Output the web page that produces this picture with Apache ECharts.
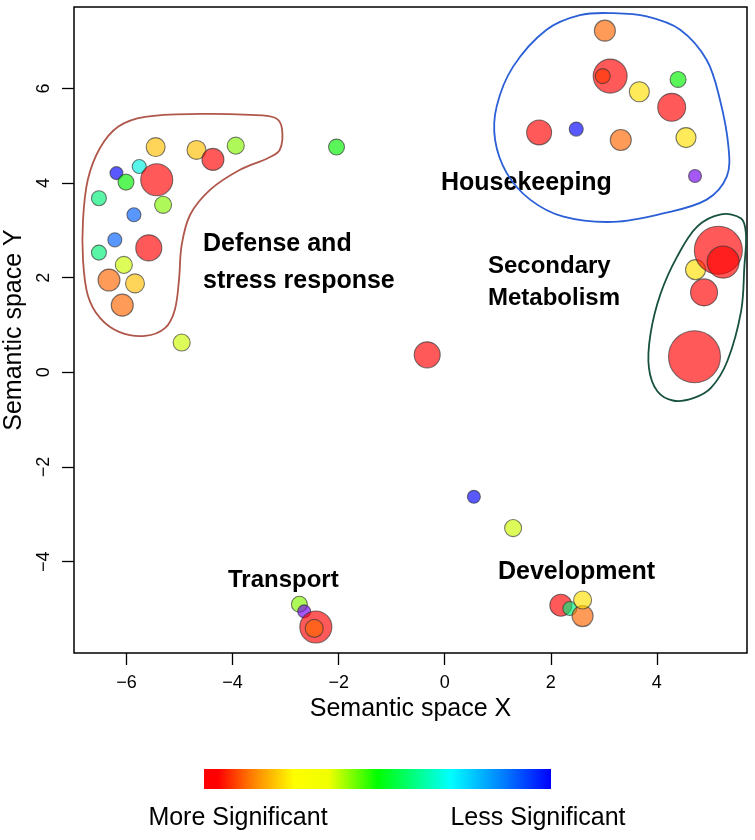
<!DOCTYPE html>
<html><head><meta charset="utf-8">
<script src="https://cdn.jsdelivr.net/npm/echarts@6/dist/echarts.min.js"></script>
<style>html,body{margin:0;padding:0;background:#fff}#c{width:755px;height:840px}</style>
</head><body><div id="c"></div>
<script>
// ---- data ----
const semX = [-5.45,-4.68,-4.37,-3.94,-2.04,-5.76,-6.19,-6.01,-5.43,-6.52,-5.31,-5.86,-6.22,-6.52,-5.58,-6.05,-6.33,-5.84,-6.08,-4.96,
  3.02,3.12,2.98,3.67,4.40,4.28,1.78,2.48,3.32,4.55,4.72,
  4.89,4.73,5.16,5.25,4.71,
  -0.33,0.55,1.29,
  -2.74,-2.65,-2.43,-2.46,
  2.19,2.36,2.60,2.60];
const semY = [4.76,4.70,4.50,4.79,4.76,4.35,4.21,4.02,4.07,3.68,3.54,3.33,2.80,2.53,2.63,2.27,1.95,1.88,1.42,0.63,
  7.22,6.26,6.26,5.93,6.19,5.60,5.07,5.14,4.91,4.96,4.15,
  1.69,2.17,2.58,2.33,0.33,
  0.37,-2.63,-3.29,
  -4.90,-5.05,-5.38,-5.41,
  -4.92,-4.99,-5.15,-4.81];
const logSize = [1.58,1.58,1.83,1.42,1.33,1.17,1.08,1.33,2.67,1.25,1.42,1.17,1.17,1.25,2.17,1.42,1.83,1.58,1.83,1.42,
  1.75,2.83,1.25,1.67,1.33,2.33,2.08,1.17,1.75,1.67,1.08,
  2.25,1.67,4.0,2.67,4.33,
  2.17,1.08,1.42,
  1.33,1.08,2.67,1.5,
  1.83,1.17,1.75,1.5];
const logP = [-7.8,-7.8,-10,-6.0,-5.3,-3.8,-1.5,-5.3,-10,-4.6,-6.0,-2.4,-2.4,-4.6,-10,-6.6,-8.5,-7.8,-8.5,-6.6,
  -8.5,-10,-9.2,-7.3,-5.3,-10,-10,-1.5,-8.5,-7.3,-0.5,
  -10,-7.3,-10,-10,-10,
  -10,-1.5,-6.6,
  -6.0,-0.5,-10,-8.5,
  -10,-4.6,-8.5,-7.3];
const xTicks = [-6,-4,-2,0,2,4];
const yTicks = [-4,-2,0,2,4,6];
const outlineDefense = [[-3.07,5.16],[-3.11,4.70],[-3.33,4.53],[-3.86,4.28],[-4.42,3.86],[-4.80,3.33],[-4.96,2.69],[-5.01,1.96],[-5.09,1.32],[-5.27,0.94],[-5.65,0.77],[-6.13,0.85],[-6.50,1.15],[-6.73,1.63],[-6.82,2.38],[-6.82,3.22],[-6.73,4.07],[-6.50,4.74],[-6.16,5.19],[-5.65,5.40],[-4.61,5.46],[-3.67,5.44],[-3.20,5.38]];
const outlineHousekeeping = [[3.18,7.59],[3.81,7.52],[4.44,7.24],[4.94,6.60],[5.19,5.76],[5.35,4.77],[5.32,4.14],[4.94,3.65],[4.12,3.36],[3.18,3.18],[2.24,3.29],[1.61,3.65],[1.17,4.21],[0.95,4.91],[0.98,5.62],[1.29,6.46],[1.92,7.24],[2.55,7.55]];
const outlineSecondary = [[5.21,3.34],[5.59,3.25],[5.68,2.93],[5.65,2.23],[5.59,1.30],[5.33,0.24],[5.02,-0.33],[4.70,-0.54],[4.32,-0.60],[4.01,-0.40],[3.85,0.10],[3.88,0.81],[4.07,1.66],[4.38,2.44],[4.76,3.08]];
const clusterNames = ['Defense and\nstress response','Housekeeping','Secondary\nMetabolism','Transport','Development'];
const legendText = ['More Significant','Less Significant'];

// ---- colour scale (log10 p) ----
const colorStops = [[-10,[255,0,0]],[-8.5,[255,102,0]],[-7.8,[255,190,0]],[-7.3,[255,222,0]],[-6.6,[205,250,0]],[-6.0,[130,245,0]],[-5.3,[0,240,0]],[-4.6,[0,240,120]],[-3.8,[0,240,225]],[-2.4,[0,95,255]],[-1.5,[0,0,255]],[-0.5,[115,0,240]]];
function sigColor(v){
  if (v <= colorStops[0][0]) return 'rgb(' + colorStops[0][1].join(',') + ')';
  for (let i = 1; i < colorStops.length; i++) {
    if (v <= colorStops[i][0]) {
      const a = colorStops[i-1], b = colorStops[i];
      const t = (v - a[0]) / (b[0] - a[0]);
      const c = a[1].map((ch, k) => Math.round(ch + (b[1][k] - ch) * t));
      return 'rgb(' + c.join(',') + ')';
    }
  }
  return 'rgb(' + colorStops[colorStops.length-1][1].join(',') + ')';
}

const FONT = '"Liberation Sans", Arial, sans-serif';
function outlineSeries(pts, color){
  return {
    type:'custom', coordinateSystem:'cartesian2d', silent:true, z:1,
    data:[pts[0]],
    renderItem:(params, api) => ({
      type:'polygon',
      shape:{points: pts.map(p => api.coord(p)), smooth:0.35},
      style:{fill:null, stroke:color, lineWidth:1.8}
    })
  };
}

const chart = echarts.init(document.getElementById('c'), null, {renderer:'canvas'});
const minus = v => String(v).replace('-', '\u2212');
chart.setOption({
  animation:false,
  backgroundColor:'#fff',
  grid:{left:74, top:7, width:673, height:646, show:true, borderColor:'#000', borderWidth:1.5, backgroundColor:'transparent',
    containLabel:false, outerBoundsMode:'none'},
  xAxis:{type:'value', min:-6.99, max:5.70,
    splitLine:{show:false}, axisLine:{show:false, onZero:false},
    axisTick:{show:true, length:12, customValues:xTicks, lineStyle:{color:'#000', width:1.3}},
    axisLabel:{customValues:xTicks, formatter:minus, fontSize:18, color:'#000', margin:21, fontFamily:FONT},
    name:'Semantic space X', nameLocation:'middle', nameGap:41,
    nameTextStyle:{fontSize:25, color:'#000', fontFamily:FONT}},
  yAxis:{type:'value', min:-5.93, max:7.72,
    splitLine:{show:false}, axisLine:{show:false, onZero:false},
    axisTick:{show:true, length:12, customValues:yTicks, lineStyle:{color:'#000', width:1.3}},
    axisLabel:{customValues:yTicks, formatter:minus, fontSize:18, color:'#000', margin:21, rotate:90, fontFamily:FONT},
    name:'Semantic space Y', nameLocation:'middle', nameGap:46,
    nameTextStyle:{fontSize:25, color:'#000', fontFamily:FONT}},
  series:[
    outlineSeries(outlineDefense, '#b0574c'),
    outlineSeries(outlineHousekeeping, '#2a5fd6'),
    outlineSeries(outlineSecondary, '#17513f'),
    {type:'scatter', z:2, silent:true,
      data: semX.map((x, i) => [x, semY[i], logSize[i], logP[i]]),
      symbolSize: v => v[2] * 12,
      itemStyle:{color: p => sigColor(p.value[3]), opacity:0.65, borderColor:'#333', borderWidth:1.1}}
  ],
  graphic:[
    {type:'text', x:203, y:262.5, style:{text:clusterNames[0], font:'bold 25px ' + FONT, fill:'#000', lineHeight:37, textVerticalAlign:'middle', verticalAlign:'middle'}},
    {type:'text', x:441, y:183, style:{text:clusterNames[1], font:'bold 25px ' + FONT, fill:'#000', textVerticalAlign:'middle', verticalAlign:'middle'}},
    {type:'text', x:488, y:282, style:{text:clusterNames[2], font:'bold 24px ' + FONT, fill:'#000', lineHeight:32, textVerticalAlign:'middle', verticalAlign:'middle'}},
    {type:'text', x:228, y:580, style:{text:clusterNames[3], font:'bold 24px ' + FONT, fill:'#000', textVerticalAlign:'middle', verticalAlign:'middle'}},
    {type:'text', x:498, y:572, style:{text:clusterNames[4], font:'bold 25px ' + FONT, fill:'#000', textVerticalAlign:'middle', verticalAlign:'middle'}},
    {type:'rect', shape:{x:204, y:769, width:347, height:20},
      style:{fill:new echarts.graphic.LinearGradient(0,0,1,0,[
        {offset:0, color:'#ff0000'},{offset:0.04, color:'#ff0000'},{offset:0.14, color:'#ff8000'},
        {offset:0.26, color:'#ffff00'},{offset:0.36, color:'#f0ff00'},{offset:0.5, color:'#00ff00'},
        {offset:0.71, color:'#00ffff'},{offset:0.86, color:'#0080ff'},{offset:1, color:'#0000ff'}])}},
    {type:'text', x:238, y:818, style:{text:legendText[0], font:'25px ' + FONT, fill:'#000', textAlign:'center', align:'center', textVerticalAlign:'middle', verticalAlign:'middle'}},
    {type:'text', x:538, y:818, style:{text:legendText[1], font:'25px ' + FONT, fill:'#000', textAlign:'center', align:'center', textVerticalAlign:'middle', verticalAlign:'middle'}}
  ]
});
</script></body></html>
